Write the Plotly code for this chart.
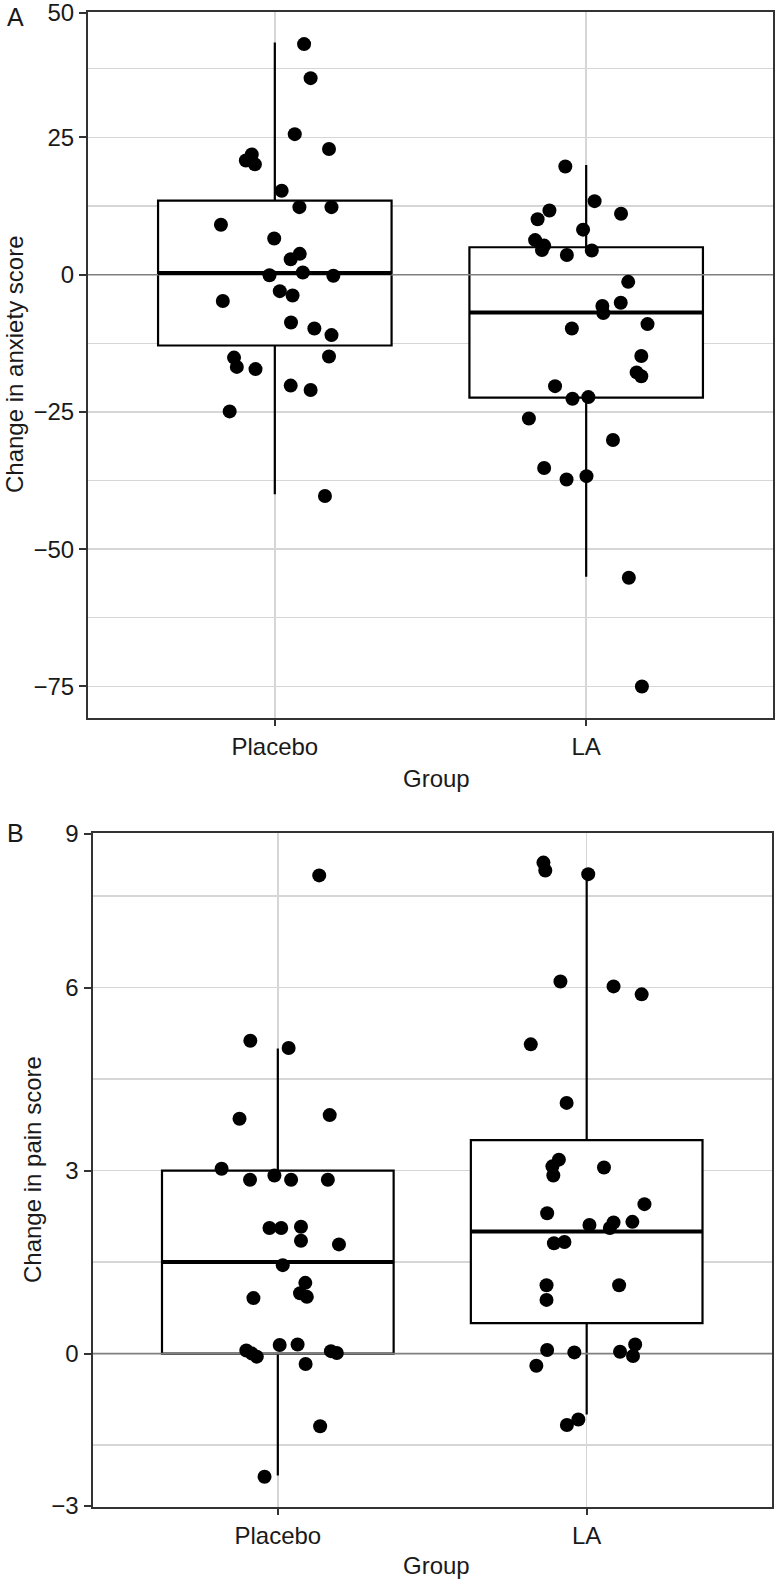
import plotly.graph_objects as go

# ---------------- data ----------------
GROUPS = ["Placebo", "LA"]
GROUP_POS = [1, 2]

# Panel A: change in anxiety score (points shown with horizontal jitter offsets)
anx_placebo_y = [42.0, 35.8, 25.6, 22.9, 20.8, 21.9, 20.1, 15.3, 12.3, 12.3, 9.1, 6.6,
                 3.8, 2.8, -0.1, 0.4, -0.2, -4.8, -3.0, -3.8, -8.7, -9.8, -11.0, -14.9,
                 -15.1, -16.8, -17.2, -20.2, -21.0, -24.9, -40.3]
anx_placebo_jit = [0.094, 0.115, 0.064, 0.174, -0.093, -0.074, -0.064, 0.022, 0.079, 0.182,
                   -0.173, -0.002, 0.080, 0.051, -0.017, 0.090, 0.188, -0.167, 0.016, 0.057,
                   0.052, 0.127, 0.182, 0.174, -0.131, -0.122, -0.062, 0.051, 0.115, -0.145, 0.161]
anx_la_y = [19.7, 13.4, 11.7, 11.1, 10.1, 8.2, 6.3, 5.3, 4.5, 3.6, 4.4, -1.3, -5.7, -5.1,
            -7.0, -9.0, -9.8, -14.8, -17.8, -18.5, -20.3, -22.6, -22.3, -26.2, -30.1, -35.2,
            -37.3, -36.7, -55.2, -75.0]
anx_la_jit = [-0.067, 0.027, -0.118, 0.112, -0.156, -0.010, -0.164, -0.135, -0.142, -0.062,
              0.018, 0.135, 0.052, 0.111, 0.055, 0.197, -0.046, 0.177, 0.162, 0.177, -0.100,
              -0.044, 0.007, -0.184, 0.086, -0.135, -0.063, 0.001, 0.137, 0.179]
anx_q1 = [-12.9, -22.4]
anx_median = [0.3, -6.9]
anx_q3 = [13.5, 5.0]
anx_lowerfence = [-40.0, -55.0]
anx_upperfence = [42.3, 20.0]

# Panel B: change in pain score
pain_placebo_y = [7.84, 5.13, 5.01, 3.85, 3.91, 3.03, 2.85, 2.92, 2.85, 2.85, 2.06, 2.06,
                  2.08, 1.85, 1.79, 1.45, 1.16, 0.99, 0.93, 0.91, 0.05, 0.0, -0.05, 0.14,
                  0.15, 0.04, 0.01, -0.17, -1.19, -2.02]
pain_placebo_jit = [0.134, -0.089, 0.035, -0.124, 0.168, -0.182, -0.090, -0.011, 0.043, 0.162,
                    -0.027, 0.011, 0.075, 0.075, 0.198, 0.016, 0.089, 0.072, 0.094, -0.079,
                    -0.102, -0.084, -0.068, 0.006, 0.064, 0.172, 0.191, 0.090, 0.137, -0.043]
pain_la_y = [8.05, 7.92, 7.86, 6.10, 6.02, 5.89, 5.07, 4.11, 3.18, 3.07, 2.92, 3.05, 2.45,
             2.30, 2.11, 2.15, 2.06, 2.16, 1.81, 1.83, 1.12, 1.12, 0.88, 0.06, 0.02, 0.03,
             0.15, -0.04, -0.20, -1.08, -1.17]
pain_la_jit = [-0.140, -0.134, 0.005, -0.085, 0.087, 0.178, -0.181, -0.065, -0.090, -0.111,
               -0.108, 0.056, 0.187, -0.128, 0.009, 0.087, 0.075, 0.148, -0.106, -0.072,
               -0.130, 0.105, -0.130, -0.128, -0.040, 0.108, 0.157, 0.150, -0.163, -0.027, -0.064]
pain_q1 = [0.0, 0.5]
pain_median = [1.5, 2.0]
pain_q3 = [3.0, 3.5]
pain_lowerfence = [-2.0, -1.0]
pain_upperfence = [5.0, 7.9]

# axis ticks
anx_tickvals = [47.75, 25, 0, -25, -50, -75]
anx_ticktext = ["50", "25", "0", "\u221225", "\u221250", "\u221275"]
anx_minor = [37.5, 12.5, -12.5, -37.5, -62.5]
anx_range = [-80.75, 47.85]
pain_tickvals = [8.52, 6, 3, 0, -2.5]
pain_ticktext = ["9", "6", "3", "0", "\u22123"]
pain_minor = [7.5, 4.5, 1.5, -1.5]
pain_range = [-2.51, 8.53]
X_RANGE = [0.4, 2.6]
BOX_WIDTH = 0.75
REF_Y = 0

# ---------------- figure ----------------
W, H = 777, 1579
FONT = "Liberation Sans, Arial, Helvetica, sans-serif"
TXT = "#1a1a1a"
GRID = "#d6d6d6"
AX = "#333333"

fig = go.Figure()


def add_panel(xa, ya, q1, med, q3, lo, hi, ys_list, jits_list):
    fig.add_trace(go.Box(
        x=GROUP_POS, q1=q1, median=med, q3=q3, lowerfence=lo, upperfence=hi,
        width=BOX_WIDTH, fillcolor="white", line=dict(color="black", width=2.2),
        whiskerwidth=0, boxpoints=False, showlegend=False, hoverinfo="skip",
        xaxis=xa, yaxis=ya))
    # reference line at zero
    fig.add_trace(go.Scatter(x=X_RANGE, y=[REF_Y, REF_Y], mode="lines",
                             line=dict(color="#808080", width=1.6), showlegend=False,
                             hoverinfo="skip", xaxis=xa, yaxis=ya))
    # thicker median lines
    mx, my = [], []
    for p, m in zip(GROUP_POS, med):
        mx += [p - BOX_WIDTH / 2, p + BOX_WIDTH / 2, None]
        my += [m, m, None]
    fig.add_trace(go.Scatter(x=mx, y=my, mode="lines", line=dict(color="black", width=4),
                             showlegend=False, hoverinfo="skip", xaxis=xa, yaxis=ya))
    # jittered points
    for p, ys, jits in zip(GROUP_POS, ys_list, jits_list):
        fig.add_trace(go.Scatter(
            x=[p + j for j in jits], y=ys, mode="markers",
            marker=dict(color="black", size=14, line=dict(width=0)),
            showlegend=False, xaxis=xa, yaxis=ya))


add_panel("x", "y", anx_q1, anx_median, anx_q3, anx_lowerfence, anx_upperfence,
          [anx_placebo_y, anx_la_y], [anx_placebo_jit, anx_la_jit])
add_panel("x2", "y2", pain_q1, pain_median, pain_q3, pain_lowerfence, pain_upperfence,
          [pain_placebo_y, pain_la_y], [pain_placebo_jit, pain_la_jit])


def px_x(px):
    return px / W


def px_y(py):
    return 1 - py / H


FS = 24
xaxis_common = dict(range=X_RANGE, tickmode="array", tickvals=GROUP_POS, ticktext=GROUPS,
                    showgrid=True, gridcolor=GRID, gridwidth=1.6, zeroline=False,
                    showline=True, linecolor=AX, linewidth=2, mirror=True, automargin=False,
                    ticks="outside", ticklen=6, tickwidth=2, tickcolor=AX,
                    ticklabeloverflow="allow",
                    tickfont=dict(family=FONT, size=FS, color=TXT), fixedrange=True)
yaxis_common = dict(tickmode="array", showgrid=True, gridcolor=GRID, gridwidth=1.6,
                    zeroline=False, showline=True, linecolor=AX, linewidth=2, mirror=True,
                    automargin=False, ticklabeloverflow="allow",
                    ticks="outside", ticklen=7, tickwidth=2, tickcolor=AX,
                    tickfont=dict(family=FONT, size=FS, color=TXT), fixedrange=True)

fig.update_layout(
    width=W, height=H, margin=dict(l=0, r=0, t=0, b=0, autoexpand=False),
    paper_bgcolor="white", plot_bgcolor="white",
    xaxis=dict(domain=[px_x(88), px_x(773)], anchor="y", **xaxis_common),
    yaxis=dict(domain=[px_y(718), px_y(12)], anchor="x", range=anx_range,
               tickvals=anx_tickvals, ticktext=anx_ticktext,
               minor=dict(tickvals=anx_minor, showgrid=True, gridcolor=GRID, gridwidth=1.3, ticks=""),
               **yaxis_common),
    xaxis2=dict(domain=[px_x(92.5), px_x(772)], anchor="y2", **xaxis_common),
    yaxis2=dict(domain=[px_y(1506.7), px_y(833.3)], anchor="x2", range=pain_range,
                tickvals=pain_tickvals, ticktext=pain_ticktext,
                minor=dict(tickvals=pain_minor, showgrid=True, gridcolor=GRID, gridwidth=1.3, ticks=""),
                **yaxis_common),
    showlegend=False,
    hovermode=False,
)

annotations = [
    dict(text="A", x=px_x(15), y=px_y(17), size=25),
    dict(text="B", x=px_x(15), y=px_y(833), size=25),
    dict(text="Change in anxiety score", x=px_x(14), y=px_y(365), textangle=-90, size=FS),
    dict(text="Change in pain score", x=px_x(32), y=px_y(1170), textangle=-90, size=FS),
    dict(text="Group", x=px_x(437), y=px_y(778), size=FS),
    dict(text="Group", x=px_x(437), y=px_y(1565), size=FS),
]
for a in annotations:
    size = a.pop("size")
    fig.add_annotation(xref="paper", yref="paper", showarrow=False, xanchor="center",
                       yanchor="middle", font=dict(family=FONT, size=size, color=TXT), **a)

# place the plot flush with the page corner (no default page margin)
fig.write_html("out.html",
               config={"displayModeBar": False, "staticPlot": True},
               post_script="document.body.style.margin='0px';document.body.style.overflow='hidden';")
